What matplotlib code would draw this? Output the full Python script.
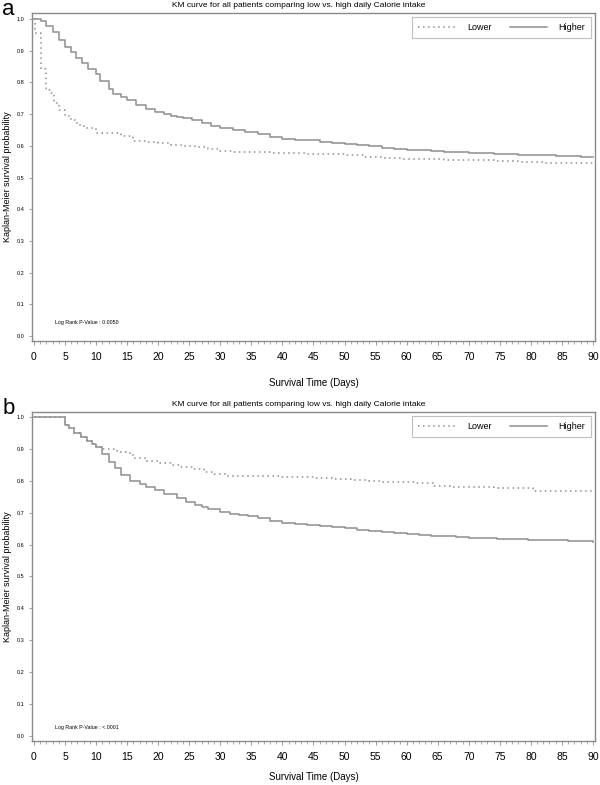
import matplotlib
matplotlib.use("Agg")
import matplotlib.pyplot as plt

plt.rcParams['font.family'] = ['Liberation Sans', 'DejaVu Sans']

# ---- data (day, survival probability) ----
# panel a
a_lower_t = [0, 0.2, 1.1, 2, 2.7, 3.2, 4, 5, 6, 7, 8, 10, 14, 16, 18, 20, 22, 24,
             26, 28, 30, 32, 35, 38, 41, 44, 47, 50, 53, 56, 59, 62, 66, 70, 74,
             78, 82, 86, 90]
a_lower_s = [1.0, 0.955, 0.841, 0.776, 0.766, 0.735, 0.713, 0.694, 0.681, 0.666,
             0.655, 0.64, 0.631, 0.616, 0.612, 0.608, 0.604, 0.60, 0.595, 0.59,
             0.584, 0.58, 0.579, 0.578, 0.577, 0.575, 0.573, 0.57, 0.566, 0.563,
             0.56, 0.557, 0.555, 0.554, 0.552, 0.55, 0.547, 0.546, 0.545]
a_higher_t = [0, 1.2, 2, 3, 4, 5, 6, 6.8, 7.7, 8.7, 10, 10.6, 12, 12.8, 14, 15, 16.5,
              18, 19.5, 21, 22, 23, 24, 25.5, 27, 28.5, 30, 32, 34, 36, 38, 40, 42,
              44, 46, 48, 50, 52, 54, 56, 58, 60, 62, 64, 66, 68, 70, 72, 74, 76,
              78, 80, 82, 84, 86, 88, 90]
a_higher_s = [1.0, 0.994, 0.978, 0.96, 0.934, 0.911, 0.895, 0.876, 0.86, 0.841,
              0.826, 0.804, 0.778, 0.763, 0.755, 0.744, 0.729, 0.716, 0.708, 0.70,
              0.694, 0.69, 0.687, 0.68, 0.671, 0.664, 0.656, 0.65, 0.644, 0.636,
              0.628, 0.622, 0.619, 0.617, 0.613, 0.61, 0.606, 0.602, 0.598, 0.594,
              0.591, 0.588, 0.586, 0.584, 0.582, 0.579, 0.577, 0.576, 0.575, 0.574,
              0.572, 0.571, 0.57, 0.568, 0.567, 0.566, 0.566]
a_pvalue = "Log Rank P-Value : 0.0050"

# panel b
b_lower_t = [0, 5, 5.7, 6.5, 7.5, 8.5, 9.3, 10, 11, 13.3, 15, 16, 18, 20.3, 22, 23.5,
             25.5, 27.3, 29, 31, 34, 37, 40, 43, 45, 48, 51, 54, 56, 59, 61.6, 64.3,
             67, 70, 74, 77.7, 80.4, 84, 87, 90]
b_lower_s = [1.0, 0.975, 0.965, 0.951, 0.938, 0.925, 0.915, 0.905, 0.90, 0.891,
             0.887, 0.87, 0.862, 0.855, 0.85, 0.844, 0.836, 0.829, 0.822, 0.816,
             0.815, 0.814, 0.813, 0.811, 0.808, 0.805, 0.802, 0.80, 0.797, 0.795,
             0.792, 0.784, 0.782, 0.78, 0.778, 0.776, 0.769, 0.768, 0.767, 0.766]
b_higher_t = [0, 5, 5.7, 6.5, 7.5, 8.5, 9.3, 10, 11, 12, 13, 14, 15.5, 17, 18, 19.5,
              21, 23, 24.5, 26, 27, 28, 30, 31.5, 33, 34.5, 36, 38, 40, 42, 44, 46,
              48, 50, 52, 54, 56, 58, 60, 62, 64, 66, 68, 70, 72, 74.5, 77, 79.5,
              82, 84, 86, 88, 90]
b_higher_s = [1.0, 0.975, 0.965, 0.951, 0.938, 0.925, 0.915, 0.905, 0.883, 0.86,
              0.839, 0.818, 0.80, 0.79, 0.781, 0.77, 0.758, 0.745, 0.734, 0.724,
              0.718, 0.71, 0.703, 0.697, 0.692, 0.688, 0.682, 0.675, 0.669, 0.665,
              0.661, 0.658, 0.654, 0.651, 0.647, 0.643, 0.639, 0.636, 0.633, 0.63,
              0.628, 0.626, 0.624, 0.622, 0.62, 0.618, 0.616, 0.615, 0.614, 0.613,
              0.611, 0.61, 0.609]
b_pvalue = "Log Rank P-Value : <.0001"

title = "KM curve for all patients comparing low vs. high daily Calorie intake"
xticks = list(range(0, 91, 5))
yticks = [i / 10 for i in range(11)]

line_col = "#8e8e8e"
frame_col = "#8a8a8a"

fig = plt.figure(figsize=(6, 7.85), dpi=100)


def km_panel(rect, letter, lower_t, lower_s, higher_t, higher_s, pval, pv_y, ylim,
             xlab_y):
    ax = fig.add_axes(rect)
    ax.step(lower_t, lower_s, where="post", color=line_col, lw=1.1,
            linestyle=(0, (1, 2.3)), label="Lower")
    ax.step(higher_t, higher_s, where="post", color=line_col, lw=1.1,
            label="Higher")
    ax.set_xlim(-0.32, 90.32)
    ax.set_ylim(*ylim)
    ax.set_xticks(xticks)
    ax.set_xticks(range(0, 91), minor=True)
    ax.set_yticks(yticks)
    ax.set_yticklabels(["%.1f" % v for v in yticks], fontsize=4)
    ax.tick_params(axis="x", labelsize=7.5, length=3, width=0.6, pad=5,
                   color=frame_col)
    ax.tick_params(axis="x", which="minor", length=2, width=0.5, color=frame_col)
    ax.tick_params(axis="y", length=2.5, width=0.6, pad=3, color=frame_col)
    for sp in ax.spines.values():
        sp.set_color(frame_col)
        sp.set_linewidth(1.0)
    ax.set_xlabel("Survival Time (Days)", fontsize=7)
    ax.xaxis.set_label_coords(0.5, xlab_y)
    ax.set_ylabel("Kaplan-Meier survival probability", fontsize=6.5)
    ax.yaxis.set_label_coords(-0.036, 0.5)
    ax.text(3.4, pv_y, pval, fontsize=3.8, va="center")
    leg = ax.legend(loc="upper right", ncol=2, fontsize=6.5, frameon=True,
                    fancybox=False, edgecolor="#b0b0b0", handlelength=4.2,
                    columnspacing=2.0, handletextpad=1.2,
                    borderaxespad=0.4, borderpad=0.7)
    leg.get_frame().set_linewidth(0.8)
    top = rect[1] + rect[3]
    fig.text(0.497, top + 0.0095, title, fontsize=6, ha="center", va="center")
    fig.text(0.004, top + 0.004, letter, fontsize=16, ha="left", va="center")
    return ax


km_panel([0.0533, 0.5656, 0.9383, 0.4178], "a", a_lower_t, a_lower_s,
         a_higher_t, a_higher_s, a_pvalue, 0.044, (-0.0158, 1.019), -0.113)
km_panel([0.0533, 0.0561, 0.9383, 0.4191], "b", b_lower_t, b_lower_s,
         b_higher_t, b_higher_s, b_pvalue, 0.026, (-0.0157, 1.0157), -0.093)

fig.savefig("out.png", dpi=100)
